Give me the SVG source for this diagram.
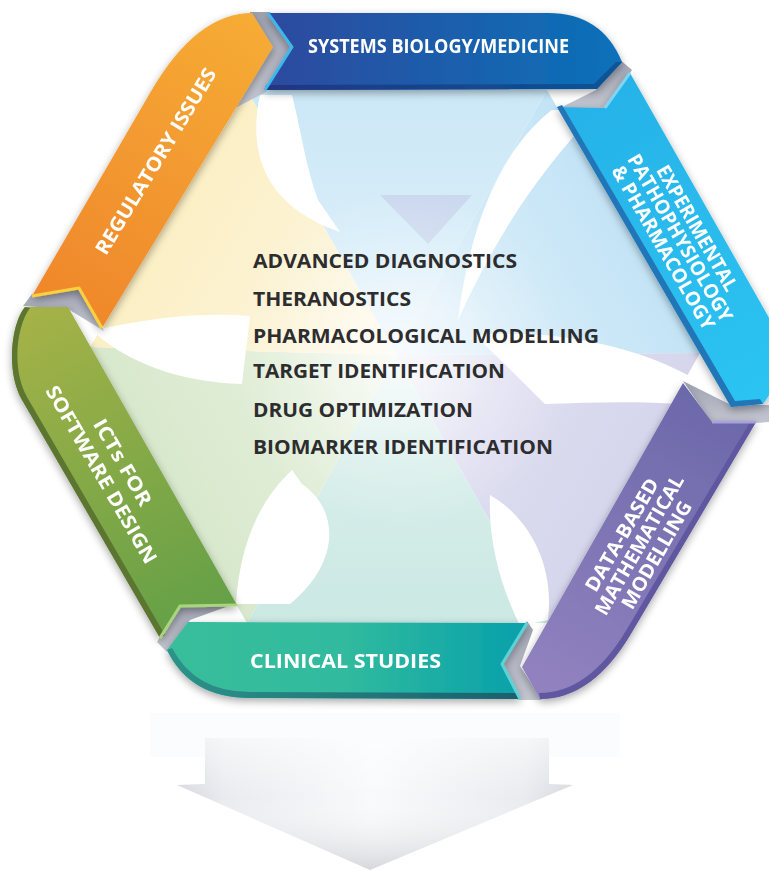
<svg xmlns="http://www.w3.org/2000/svg" width="769" height="870" viewBox="0 0 769 870">
<defs>
<style>
.band-t{font-family:"Open Sans","Liberation Sans",sans-serif;font-weight:700;font-size:19.5px;fill:#ffffff}
.list-t{font-family:"Open Sans","Liberation Sans",sans-serif;font-weight:700;font-size:19.5px;fill:#2d2d2f}
.lip-light{fill:none;stroke-width:3;stroke-linejoin:round}
</style>
<filter id="sh" x="-15%" y="-15%" width="130%" height="130%">
<feGaussianBlur in="SourceAlpha" stdDeviation="4"/>
<feOffset dx="0" dy="3"/>
<feComponentTransfer><feFuncA type="linear" slope="0.35"/></feComponentTransfer>
<feMerge><feMergeNode/><feMergeNode in="SourceGraphic"/></feMerge>
</filter>
<linearGradient id="gBlue" x1="265" y1="0" x2="622" y2="0" gradientUnits="userSpaceOnUse"><stop offset="0" stop-color="#2e4a9e"/><stop offset="1" stop-color="#0a71b9"/></linearGradient>
<linearGradient id="gBlueLip" x1="265" y1="0" x2="622" y2="0" gradientUnits="userSpaceOnUse"><stop offset="0" stop-color="#213782"/><stop offset="1" stop-color="#0a5497"/></linearGradient>
<linearGradient id="gLBlue" x1="557" y1="107" x2="740" y2="400" gradientUnits="userSpaceOnUse"><stop offset="0" stop-color="#27b2e8"/><stop offset="1" stop-color="#2cc3f2"/></linearGradient>
<linearGradient id="gPurple" x1="710" y1="400" x2="560" y2="690" gradientUnits="userSpaceOnUse"><stop offset="0" stop-color="#6c69aa"/><stop offset="1" stop-color="#9181bf"/></linearGradient>
<linearGradient id="gTeal" x1="170" y1="0" x2="527" y2="0" gradientUnits="userSpaceOnUse"><stop offset="0" stop-color="#39be9b"/><stop offset="0.5" stop-color="#30ba9e"/><stop offset="1" stop-color="#07a0ab"/></linearGradient>
<linearGradient id="gTealLip" x1="170" y1="0" x2="527" y2="0" gradientUnits="userSpaceOnUse"><stop offset="0" stop-color="#2d9289"/><stop offset="1" stop-color="#1a5f6d"/></linearGradient>
<linearGradient id="gGreen" x1="40" y1="310" x2="210" y2="620" gradientUnits="userSpaceOnUse"><stop offset="0" stop-color="#a4b247"/><stop offset="1" stop-color="#64a046"/></linearGradient>
<linearGradient id="gOrange" x1="250" y1="13" x2="60" y2="320" gradientUnits="userSpaceOnUse"><stop offset="0" stop-color="#f6ac35"/><stop offset="1" stop-color="#ef862b"/></linearGradient>
<linearGradient id="gJ" x1="0" y1="0" x2="0" y2="1"><stop offset="0" stop-color="#9ea2b0"/><stop offset="1" stop-color="#c4c7d1"/></linearGradient>
<linearGradient id="sTop" x1="397" y1="90" x2="396" y2="355" gradientUnits="userSpaceOnUse"><stop offset="0" stop-color="#cbe7f6"/><stop offset="0.6" stop-color="#d9eef9"/><stop offset="1" stop-color="#eef7fc"/></linearGradient>
<linearGradient id="sUR" x1="623" y1="221" x2="396" y2="355" gradientUnits="userSpaceOnUse"><stop offset="0" stop-color="#c3e4f6"/><stop offset="0.6" stop-color="#d6ecf8"/><stop offset="1" stop-color="#eef6fb"/></linearGradient>
<linearGradient id="sLR" x1="623" y1="488" x2="396" y2="355" gradientUnits="userSpaceOnUse"><stop offset="0" stop-color="#d5d5ec"/><stop offset="0.6" stop-color="#dfdff1"/><stop offset="1" stop-color="#f2f2f9"/></linearGradient>
<linearGradient id="sBot" x1="397" y1="623" x2="396" y2="355" gradientUnits="userSpaceOnUse"><stop offset="0" stop-color="#cbe8e3"/><stop offset="0.6" stop-color="#d7eeea"/><stop offset="1" stop-color="#eef8f6"/></linearGradient>
<linearGradient id="sLL" x1="168" y1="485" x2="396" y2="355" gradientUnits="userSpaceOnUse"><stop offset="0" stop-color="#d8e8cc"/><stop offset="0.6" stop-color="#e3efda"/><stop offset="1" stop-color="#f3f8ee"/></linearGradient>
<linearGradient id="sUL" x1="168" y1="218" x2="396" y2="355" gradientUnits="userSpaceOnUse"><stop offset="0" stop-color="#fbefc4"/><stop offset="0.6" stop-color="#fcf4d8"/><stop offset="1" stop-color="#fdf9ee"/></linearGradient>
<radialGradient id="rC" cx="405" cy="360" r="170" gradientUnits="userSpaceOnUse"><stop offset="0" stop-color="#ffffff" stop-opacity="0.55"/><stop offset="1" stop-color="#ffffff" stop-opacity="0"/></radialGradient>
<linearGradient id="gArrowH" x1="177" y1="0" x2="573" y2="0" gradientUnits="userSpaceOnUse"><stop offset="0" stop-color="#d6d8de"/><stop offset="0.12" stop-color="#e9ebef"/><stop offset="0.5" stop-color="#f9fafc"/><stop offset="0.88" stop-color="#e9ebef"/><stop offset="1" stop-color="#d6d8de"/></linearGradient>
<linearGradient id="gArrowV" x1="0" y1="738" x2="0" y2="870" gradientUnits="userSpaceOnUse"><stop offset="0" stop-color="#ffffff" stop-opacity="0.6"/><stop offset="0.45" stop-color="#ffffff" stop-opacity="0"/><stop offset="1" stop-color="#c8c9ce" stop-opacity="0.7"/></linearGradient>
</defs>
<rect width="769" height="870" fill="#ffffff"/>

<g id="center-art">
<polygon points="247,90 547,90 396,355" fill="url(#sTop)"/>
<polygon points="547,90 700,353 396,355" fill="url(#sUR)"/>
<polygon points="700,353 547,623 396,355" fill="url(#sLR)"/>
<polygon points="547,623 247,623 396,355" fill="url(#sBot)"/>
<polygon points="247,623 90,347 396,355" fill="url(#sLL)"/>
<polygon points="90,347 247,90 396,355" fill="url(#sUL)"/>
<polygon points="380,195 472,195 428,244" fill="#c5cbe7" opacity="0.6"/>
<g fill="#ffffff">
<path d="M260,95 C248,150 262,205 340,232 L318,200 C305,165 300,125 292,95 Z"/>
<path d="M552,110 C500,150 470,225 458,320 C490,250 530,180 600,108 Z"/>
<path d="M722,408 C660,400 600,402 545,404 L475,335 C565,328 650,350 705,385 Z"/>
<path d="M520,626 C500,585 488,540 490,495 C525,515 555,560 548,620 Z"/>
<path d="M236,604 C240,540 262,498 292,470 L302,484 C342,512 338,565 290,604 Z"/>
<path d="M96,330 C150,318 200,312 250,316 L242,384 C178,382 128,362 96,334 Z"/>
</g>
<circle cx="405" cy="360" r="170" fill="url(#rC)"/>
</g>

<g id="junctions" fill="url(#gJ)">
<polygon points="250,12 270,12 294,47 266,92 235,108"/>
<polygon points="618,58 632,70 606,110 556,110 596,90"/>
<polygon points="683,381 731,405 769,405 769,422 756,423 712,423"/>
<polygon points="527,621 533,630 520,666 542,700 518,700 500,664"/>
<polygon points="237,603 190,620 167,652 157,642 180,604"/>
<polygon points="23,306 32,294 79,287 104,331 68,309"/>
</g>

<g id="band-systems-biology" filter="url(#sh)">
<path d="M268,13 L548,13 Q602,13 622,62 L597,89 L265,90 L292,47 Z" fill="url(#gBlue)"/>
<path d="M265,90 L597,89 L622,62 L616,62 L594,84 L266,85 Z" fill="url(#gBlueLip)"/>
<path class="lip-light" d="M268,13 L292,47 L265,90" stroke="#3bb8ec"/>
<text class="band-t" x="308" y="53" textLength="261" lengthAdjust="spacingAndGlyphs">SYSTEMS BIOLOGY/MEDICINE</text>
</g>

<g id="band-experimental" filter="url(#sh)">
<path d="M557,107 L605,108 L630,73 L768,316 Q795,362 763,404 L731,407 Z" fill="url(#gLBlue)"/>
<path d="M557,107 L731,407 L763,404 L760,399 L735,401 L562,105 Z" fill="#2176b7"/>
<path class="lip-light" d="M605,108 L630,73" stroke="#7cd6f6"/>
<g transform="translate(680,238) rotate(60)">
<text class="band-t" x="0" y="-13" text-anchor="middle" textLength="142" lengthAdjust="spacingAndGlyphs">EXPERIMENTAL</text>
<text class="band-t" x="0" y="6.5" text-anchor="middle" textLength="190" lengthAdjust="spacingAndGlyphs">PATHOPHYSIOLOGY</text>
<text class="band-t" x="0" y="26" text-anchor="middle" textLength="186" lengthAdjust="spacingAndGlyphs">&amp; PHARMACOLOGY</text>
</g>
</g>

<g id="band-data-based" filter="url(#sh)">
<path d="M683,383 L712,422 L756,422 L632,632 Q593,699 540,699 L522,667 Z" fill="url(#gPurple)"/>
<path d="M756,422 L632,632 Q593,699 540,699 L539,693 Q589,693 627,629 L750,422 Z" fill="#5e59a0"/>
<path class="lip-light" d="M712,422 L756,422" stroke="#a7a2da"/>
<g transform="translate(639.5,545) rotate(-60)">
<text class="band-t" x="0" y="-13.5" text-anchor="middle" textLength="127" lengthAdjust="spacingAndGlyphs">DATA-BASED</text>
<text class="band-t" x="0" y="6.5" text-anchor="middle" textLength="158" lengthAdjust="spacingAndGlyphs">MATHEMATICAL</text>
<text class="band-t" x="0" y="26.5" text-anchor="middle" textLength="121" lengthAdjust="spacingAndGlyphs">MODELLING</text>
</g>
</g>

<g id="band-clinical" filter="url(#sh)">
<path d="M527,623 L502,664 L520,699 L250,698 Q190,698 167,650 L188,622 Z" fill="url(#gTeal)"/>
<path d="M520,699 L250,698 Q190,698 167,650 L172,648 Q195,692 250,692 L517,693 Z" fill="url(#gTealLip)"/>
<path class="lip-light" d="M527,623 L502,664 L520,699" stroke="#5cd1d6"/>
<text class="band-t" x="250" y="668" textLength="191" lengthAdjust="spacingAndGlyphs">CLINICAL STUDIES</text>
</g>

<g id="band-icts" filter="url(#sh)">
<path d="M68,307 L237,605 L180,606 L160,638 L22,400 C5,370 12,322 25,307 Z" fill="url(#gGreen)"/>
<path d="M160,638 L22,400 C5,370 12,322 25,307 L30,308 C17,325 11,368 27,397 L165,635 Z" fill="#5b7631"/>
<path class="lip-light" d="M160,638 L180,606 L237,605" stroke="#a9d67c"/>
<g transform="translate(112,468.5) rotate(60)">
<text class="band-t" x="0" y="-5.5" text-anchor="middle" textLength="97" lengthAdjust="spacingAndGlyphs">ICTs FOR</text>
<text class="band-t" x="0" y="19" text-anchor="middle" textLength="202" lengthAdjust="spacingAndGlyphs">SOFTWARE DESIGN</text>
</g>
</g>

<g id="band-regulatory" filter="url(#sh)">
<path d="M252,13 L273,47 L102,328 L79,288 L32,296 L150,93 Q196,13 252,13 Z" fill="url(#gOrange)"/>
<path class="lip-light" d="M32,296 L79,288 L102,328" stroke="#fccf3c"/>
<text class="band-t" transform="translate(156,161.5) rotate(-58.7)" x="0" y="6.5" text-anchor="middle" textLength="214" lengthAdjust="spacingAndGlyphs">REGULATORY ISSUES</text>
</g>

<g id="center-list">
<text class="list-t" x="253" y="268" textLength="264" lengthAdjust="spacingAndGlyphs">ADVANCED DIAGNOSTICS</text>
<text class="list-t" x="253" y="306" textLength="158" lengthAdjust="spacingAndGlyphs">THERANOSTICS</text>
<text class="list-t" x="253" y="343" textLength="346" lengthAdjust="spacingAndGlyphs">PHARMACOLOGICAL MODELLING</text>
<text class="list-t" x="253" y="378" textLength="252" lengthAdjust="spacingAndGlyphs">TARGET IDENTIFICATION</text>
<text class="list-t" x="253" y="417" textLength="220" lengthAdjust="spacingAndGlyphs">DRUG OPTIMIZATION</text>
<text class="list-t" x="253" y="454" textLength="300" lengthAdjust="spacingAndGlyphs">BIOMARKER IDENTIFICATION</text>
</g>

<g id="output-arrow">
<rect x="150" y="713" width="470" height="44" fill="#fbfcfe"/>
<path d="M205,738 L549,738 L549,784 L573,785 L370,870 L177,785 L205,784 Z" fill="url(#gArrowH)"/>
<path d="M205,738 L549,738 L549,784 L573,785 L370,870 L177,785 L205,784 Z" fill="url(#gArrowV)"/>
</g>
</svg>
